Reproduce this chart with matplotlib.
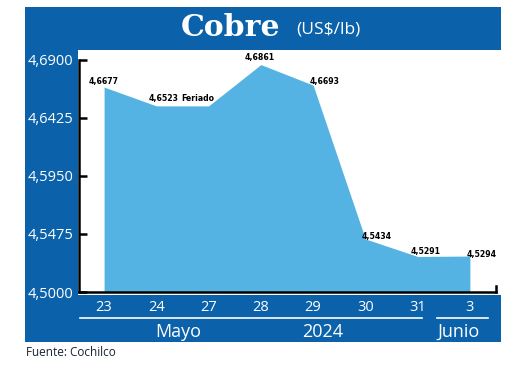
import matplotlib
matplotlib.use("Agg")
import matplotlib.pyplot as plt
from matplotlib.patches import Rectangle
from matplotlib.transforms import blended_transform_factory

# ---------------------------------------------------------------- data
days = ["23", "24", "27", "28", "29", "30", "31", "3"]
values = [4.6677, 4.6523, 4.6523, 4.6861, 4.6693, 4.5434, 4.5291, 4.5294]
point_labels = ["4,6677", "4,6523", "Feriado", "4,6861", "4,6693",
                "4,5434", "4,5291", "4,5294"]
yticks = [4.5000, 4.5475, 4.5950, 4.6425, 4.6900]
ytick_labels = ["4,5000", "4,5475", "4,5950", "4,6425", "4,6900"]
groups = ["Mayo", "2024", "Junio"]

# ---------------------------------------------------------------- style
FRAME = "#0B62AA"
FILL = "#54B3E3"
W, H = 520, 377
UI = ["Open Sans", "DejaVu Sans"]


def fx(px):
    return px / W


def fy(py):
    return 1 - py / H


fig = plt.figure(figsize=(W / 100, H / 100), dpi=100)
fig.patch.set_facecolor("white")

# blue frame pieces (figure coords)
for x0, y0, x1, y1 in [(25, 7, 501, 50), (25, 50, 78, 342), (25, 295, 501, 342)]:
    fig.patches.append(Rectangle((fx(x0), fy(y1)), fx(x1 - x0), (y1 - y0) / H,
                                 transform=fig.transFigure, facecolor=FRAME,
                                 edgecolor="none", zorder=-10))

fig.text(fx(231), fy(28), "Cobre", color="white", fontsize=21.5, fontweight="bold",
         family=["DejaVu Serif"], ha="center", va="center")
fig.text(fx(296), fy(30), "(US$/lb)", color="white", fontsize=12.5,
         family=UI, ha="left", va="center")
fig.text(fx(26), fy(353), "Fuente: Cochilco", color="#1a2333", fontsize=8.5,
         family=UI, ha="left", va="center")

# ---------------------------------------------------------------- axes
ax = fig.add_axes([fx(79), fy(292), fx(496 - 79), (292 - 50) / H])
ax.set_facecolor("none")
x = list(range(len(days)))
ax.set_xlim(-0.48, 7.5)
ax.set_ylim(4.5, 4.5 + 242 / 1222)

ax.fill_between(x, values, 4.5, color=FILL, linewidth=0, zorder=2)

# label offsets in pixels (dx, dy to label centre)
offsets = [(0, 6), (7, 7), (-11, 7), (-1, 7), (11, 4), (11, 2), (8, 5), (12, 2)]
for xi, v, lab, (dx, dy) in zip(x, values, point_labels, offsets):
    ax.annotate(lab, (xi, v), xytext=(dx, dy), textcoords="offset pixels",
                ha="center", va="center", fontsize=6.2, fontweight="bold",
                family="DejaVu Sans", fontstretch="condensed",
                color="black", zorder=5)

ax.spines["top"].set_visible(False)
ax.spines["left"].set_linewidth(1.8)
ax.spines["left"].set_bounds(4.5, 4.69)
ax.spines["bottom"].set_linewidth(1.8)
ax.spines["right"].set_linewidth(1.8)
ax.spines["right"].set_bounds(4.5, 4.505)

ax.set_yticks(yticks)
ax.set_yticklabels(ytick_labels, family=UI, fontsize=10.5, color="white")
ax.tick_params(axis="y", direction="in", length=6, width=1.8, pad=4)

ax.set_xticks(x)
ax.set_xticklabels(days, family=UI, fontsize=10.5, color="white")
ax.tick_params(axis="x", length=0, pad=6)

# month / year group rules and labels in the bottom band
tr = blended_transform_factory(ax.transData, fig.transFigure)
ax.plot([-0.46, 6.08], [fy(318)] * 2, color="white", lw=1.2,
        transform=tr, clip_on=False)
ax.plot([6.37, 7.34], [fy(318)] * 2, color="white", lw=1.2,
        transform=tr, clip_on=False)
for lab, gx in zip(groups, [1.41, 4.19, 6.79]):
    ax.text(gx, fy(332), lab, transform=tr, ha="center", va="center",
            color="white", fontsize=13, family=UI)

fig.savefig("out.png", dpi=100, facecolor="white")
